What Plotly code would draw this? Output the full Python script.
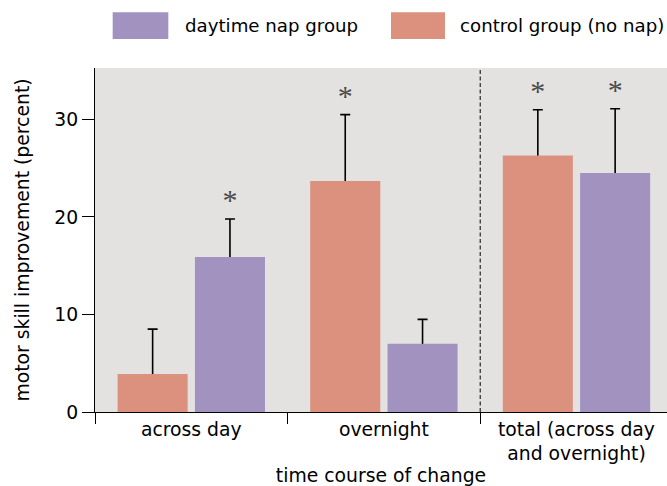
import plotly.graph_objects as go

# ---- data ----
categories = ["across day", "overnight", "total (across day<br>and overnight)"]
series_names = ["control group (no nap)", "daytime nap group"]
control_mean = [3.9, 23.7, 26.3]
control_err = [4.6, 6.8, 4.7]
nap_mean = [15.9, 7.0, 24.5]
nap_err = [3.9, 2.5, 6.6]
control_sig = ["", "*", "*"]
nap_sig = ["*", "", "*"]
y_ticks = [0, 10, 20, 30]
x_title = "time course of change"
y_title = "motor skill improvement (percent)"

# ---- styles ----
CONTROL = "#DB917D"
NAP = "#A292C0"
BG = "#E3E2E1"
FONT = "DejaVu Sans"
FS = 18.8

control_top = [m + e for m, e in zip(control_mean, control_err)]
nap_top = [m + e for m, e in zip(nap_mean, nap_err)]

fig = go.Figure()

# error stems (drawn first, transparent bars; the visible bars cover the lower part)
for name, tops, sig, grp in [(series_names[0], control_top, control_sig, "c"),
                             (series_names[1], nap_top, nap_sig, "n")]:
    fig.add_trace(go.Bar(
        x=categories, y=tops, offsetgroup=grp, showlegend=False,
        marker=dict(color="rgba(0,0,0,0)", line=dict(width=0)),
        error_y=dict(type="data", symmetric=False, array=[0] * len(tops),
                     arrayminus=tops, color="black", thickness=1.6, width=5),
        text=sig, textposition="outside", cliponaxis=False,
        textfont=dict(family="Liberation Serif", size=30, color="#4a4a4a"),
        hoverinfo="skip",
    ))

# visible bars
fig.add_trace(go.Bar(x=categories, y=control_mean, name=series_names[0],
                     offsetgroup="c", marker=dict(color=CONTROL, line=dict(width=0))))
fig.add_trace(go.Bar(x=categories, y=nap_mean, name=series_names[1],
                     offsetgroup="n", marker=dict(color=NAP, line=dict(width=0))))

fig.update_layout(
    width=667, height=486,
    margin=dict(l=95, r=0, t=68, b=74, pad=0),
    plot_bgcolor=BG, paper_bgcolor="white",
    barmode="group", bargap=0.197, bargroupgap=0.094,
    showlegend=False,
    font=dict(family=FONT, size=FS, color="black"),
)
fig.update_xaxes(
    type="category", range=[-0.5, 2.47], tickson="boundaries",
    ticks="outside", ticklen=11, tickcolor="black", tickwidth=1,
    showline=True, linecolor="black", linewidth=1, showgrid=False,
    tickfont=dict(family=FONT, size=FS, color="black"),
    title=dict(text=x_title, font=dict(family=FONT, size=FS, color="black"), standoff=7),
)
fig.update_yaxes(
    range=[0, 35.28], tickvals=y_ticks, ticks="outside", ticklen=12,
    tickcolor="black", tickwidth=1, showline=True, linecolor="black", linewidth=1,
    showgrid=False, zeroline=False,
    tickfont=dict(family=FONT, size=FS, color="black"),
    title=dict(text=y_title, font=dict(family=FONT, size=FS, color="black"), standoff=19),
)

# dashed divider between the per-period and total groups
fig.add_shape(type="line", xref="x", yref="paper", x0=1.5, x1=1.5, y0=0, y1=1,
              line=dict(color="black", width=1, dash="4px,2.5px"))

# manual legend (large swatches as in the reference)
legend_items = [(series_names[1], NAP, 0.0309, 0.1282, 0.1533),
                (series_names[0], CONTROL, 0.5175, 0.6119, 0.6351)]
for name, col, x0, x1, xt in legend_items:
    fig.add_shape(type="rect", xref="paper", yref="paper", x0=x0, x1=x1,
                  y0=1.0843, y1=1.1619, line=dict(width=0), fillcolor=col)
    fig.add_annotation(xref="paper", yref="paper", x=xt, y=1.1231, text=name,
                       showarrow=False, xanchor="left", yanchor="middle",
                       font=dict(family=FONT, size=18.2, color="black"))

# remove the default 8px page margin so the figure fills the 667x486 window
fig.write_html(
    "out.html",
    config={"displayModeBar": False},
    post_script="document.body.style.margin='0';document.body.style.overflow='hidden';",
)
